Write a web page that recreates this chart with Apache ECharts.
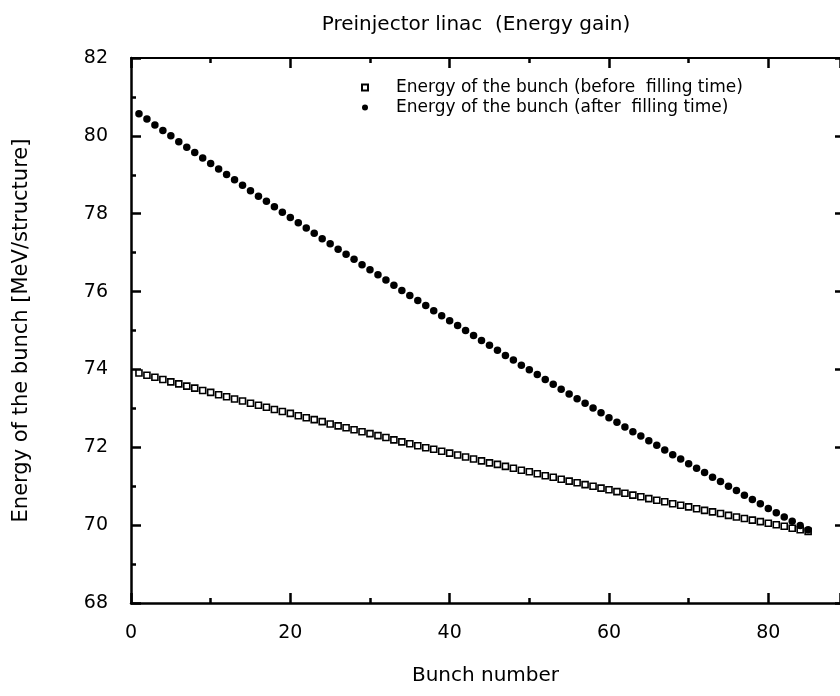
<!DOCTYPE html>
<html>
<head>
<meta charset="utf-8">
<script src="https://cdn.jsdelivr.net/npm/echarts@6/dist/echarts.min.js"></script>
<style>
  html, body { margin: 0; padding: 0; background: #fff; }
  #chart { width: 840px; height: 696px; }
</style>
</head>
<body>
<div id="chart"></div>
<script>
const bunches = [
  1, 2, 3, 4, 5, 6, 7, 8, 9, 10, 11, 12, 13, 14, 15, 16, 17, 18, 19, 20,
  21, 22, 23, 24, 25, 26, 27, 28, 29, 30, 31, 32, 33, 34, 35, 36, 37, 38, 39, 40,
  41, 42, 43, 44, 45, 46, 47, 48, 49, 50, 51, 52, 53, 54, 55, 56, 57, 58, 59, 60,
  61, 62, 63, 64, 65, 66, 67, 68, 69, 70, 71, 72, 73, 74, 75, 76, 77, 78, 79, 80,
  81, 82, 83, 84, 85
];

// energy before filling time (open squares)
const energyBefore = [
  73.91, 73.85, 73.80, 73.74, 73.68, 73.63, 73.57, 73.52, 73.46, 73.41,
  73.35, 73.30, 73.24, 73.19, 73.13, 73.08, 73.03, 72.97, 72.92, 72.87,
  72.81, 72.76, 72.71, 72.66, 72.60, 72.55, 72.50, 72.45, 72.40, 72.35,
  72.30, 72.25, 72.19, 72.14, 72.09, 72.04, 71.99, 71.95, 71.90, 71.85,
  71.80, 71.75, 71.70, 71.65, 71.60, 71.56, 71.51, 71.46, 71.41, 71.37,
  71.32, 71.27, 71.23, 71.18, 71.13, 71.09, 71.04, 71.00, 70.95, 70.91,
  70.86, 70.82, 70.77, 70.73, 70.68, 70.64, 70.60, 70.55, 70.51, 70.47,
  70.42, 70.38, 70.34, 70.30, 70.25, 70.21, 70.17, 70.13, 70.09, 70.05,
  70.01, 69.97, 69.92, 69.88, 69.84
];

// energy after filling time (filled dots)
const energyAfter = [
  80.57, 80.43, 80.28, 80.14, 80.00, 79.85, 79.71, 79.57, 79.43, 79.29,
  79.15, 79.01, 78.87, 78.73, 78.59, 78.45, 78.32, 78.18, 78.04, 77.90,
  77.77, 77.63, 77.50, 77.36, 77.23, 77.09, 76.96, 76.83, 76.69, 76.56,
  76.43, 76.30, 76.16, 76.03, 75.90, 75.77, 75.64, 75.51, 75.38, 75.25,
  75.13, 75.00, 74.87, 74.74, 74.62, 74.49, 74.36, 74.24, 74.11, 73.99,
  73.87, 73.74, 73.62, 73.49, 73.37, 73.25, 73.13, 73.01, 72.89, 72.76,
  72.64, 72.52, 72.40, 72.29, 72.17, 72.05, 71.93, 71.81, 71.70, 71.58,
  71.46, 71.35, 71.23, 71.12, 71.00, 70.89, 70.77, 70.66, 70.55, 70.43,
  70.32, 70.21, 70.10, 69.99, 69.88
];

const font = "DejaVu Sans";
const ink = "#000";

const chart = echarts.init(document.getElementById("chart"));

const axisCommon = {
  axisLine: { onZero: false, lineStyle: { color: ink, width: 2.5 } },
  axisTick: { inside: true, length: 10, lineStyle: { color: ink, width: 2.5 } },
  minorTick: { show: true, splitNumber: 2, length: 5, lineStyle: { color: ink, width: 2.5 } },
  splitLine: { show: false },
};

chart.setOption({
  animation: false,
  backgroundColor: "#fff",
  title: {
    text: "Preinjector linac  (Energy gain)",
    left: 471,
    top: 10,
    textAlign: "center",
    textStyle: { fontFamily: font, fontSize: 20, fontWeight: "normal", color: ink },
  },
  legend: {
    orient: "vertical",
    left: 356,
    top: 74,
    itemWidth: 6,
    itemHeight: 6,
    itemGap: 3,
    textStyle: { fontFamily: font, fontSize: 17, color: ink, padding: [0, 0, 0, 23] },
    data: [
      "Energy of the bunch (before  filling time)",
      "Energy of the bunch (after  filling time)",
    ],
  },
  grid: { left: 131, right: 0, top: 58, bottom: 93 },
  xAxis: [
    {
      ...axisCommon,
      type: "value",
      min: 0,
      max: 89,
      interval: 20,
      name: "Bunch number",
      nameLocation: "middle",
      nameGap: 63,
      nameTextStyle: { fontFamily: font, fontSize: 20, color: ink },
      axisLabel: {
        fontFamily: font, fontSize: 19, color: ink, margin: 21,
        showMaxLabel: false,
      },
    },
    {
      ...axisCommon,
      type: "value",
      position: "top",
      min: 0,
      max: 89,
      interval: 20,
      axisLine: { onZero: false, lineStyle: { color: ink, width: 2 } },
      axisLabel: { show: false },
    },
  ],
  yAxis: [
    {
      ...axisCommon,
      type: "value",
      min: 68,
      max: 82,
      interval: 2,
      name: "Energy of the bunch [MeV/structure]",
      nameLocation: "middle",
      nameGap: 99,
      nameTextStyle: { fontFamily: font, fontSize: 21, color: ink },
      axisLabel: { fontFamily: font, fontSize: 19, color: ink, margin: 23 },
    },
    {
      ...axisCommon,
      type: "value",
      position: "right",
      min: 68,
      max: 82,
      interval: 2,
      axisLine: { show: false, onZero: false },
      axisTick: { inside: true, length: 5, lineStyle: { color: ink, width: 2.5 } },
      minorTick: { show: false },
      axisLabel: { show: false },
    },
  ],
  series: [
    {
      name: "Energy of the bunch (before  filling time)",
      type: "scatter",
      symbol: "rect",
      symbolSize: 6,
      itemStyle: { color: "#fff", borderColor: ink, borderWidth: 1.6, opacity: 1 },
      data: bunches.map((b, i) => [b, energyBefore[i]]),
    },
    {
      name: "Energy of the bunch (after  filling time)",
      type: "scatter",
      symbol: "circle",
      symbolSize: 7.5,
      itemStyle: { color: ink, opacity: 1 },
      data: bunches.map((b, i) => [b, energyAfter[i]]),
    },
  ],
});
</script>
</body>
</html>
